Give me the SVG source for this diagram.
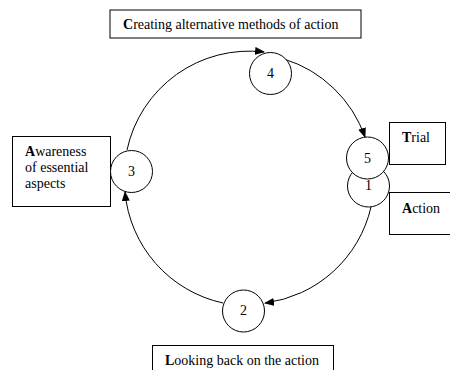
<svg xmlns="http://www.w3.org/2000/svg" width="450" height="370" viewBox="0 0 450 370">
<style>
.box{fill:#fff;stroke:#000;stroke-width:1}
.node{fill:#fff;stroke:#000;stroke-width:1}
.lbl{font-family:"Liberation Serif","Times New Roman",serif;font-size:14px;fill:#000}
.num{font-family:"Liberation Serif","Times New Roman",serif;font-size:14px;fill:#000;text-anchor:middle}
.arc{fill:none;stroke:#000;stroke-width:1}
</style>
<defs>
<marker id="ah" markerUnits="userSpaceOnUse" markerWidth="10" markerHeight="8" refX="9" refY="4" orient="auto">
<path d="M0,0 L10,4 L0,8 Z" fill="#000"/>
</marker>
</defs>
<rect width="450" height="370" fill="#fff"/>
<g id="connectors">
<path class="arc" d="M127 150 A125 125 0 0 1 264 52" marker-end="url(#ah)"/>
<path class="arc" d="M284 59 A125 125 0 0 1 365 137" marker-end="url(#ah)"/>
<path class="arc" d="M371 207 A125 125 0 0 1 265 303" marker-end="url(#ah)"/>
<path class="arc" d="M223 303 A125 125 0 0 1 125 192" marker-end="url(#ah)"/>
</g>
<g id="box-creating">
<rect class="box" x="110" y="10" width="251" height="28"/>
<text class="lbl" x="123" y="29"><tspan font-weight="bold">C</tspan>reating alternative methods of action</text>
</g>
<g id="box-awareness">
<rect class="box" x="12.5" y="136.5" width="98" height="70"/>
<text class="lbl" x="25" y="156"><tspan font-weight="bold">A</tspan>wareness</text>
<text class="lbl" x="25" y="172">of essential</text>
<text class="lbl" x="25" y="188">aspects</text>
</g>
<g id="box-trial">
<rect class="box" x="389.5" y="122.5" width="56" height="42"/>
<text class="lbl" x="402" y="142"><tspan font-weight="bold">T</tspan>rial</text>
</g>
<g id="box-action">
<rect class="box" x="389.5" y="192.5" width="70" height="42"/>
<text class="lbl" x="402" y="213"><tspan font-weight="bold">A</tspan>ction</text>
</g>
<g id="box-looking">
<rect class="box" x="152.5" y="345.5" width="181" height="40"/>
<text class="lbl" x="165" y="365"><tspan font-weight="bold">L</tspan>ooking back on the action</text>
</g>
<g id="node-1">
<circle class="node" cx="368.5" cy="186" r="21"/>
<text class="num" x="368.5" y="190">1</text>
</g>
<g id="node-5">
<circle class="node" cx="367.5" cy="158" r="21"/>
<text class="num" x="367.5" y="163">5</text>
</g>
<g id="node-4">
<circle class="node" cx="270.5" cy="73.5" r="21"/>
<text class="num" x="270.5" y="78">4</text>
</g>
<g id="node-3">
<circle class="node" cx="131.5" cy="171.5" r="21"/>
<text class="num" x="131.5" y="176">3</text>
</g>
<g id="node-2">
<circle class="node" cx="243.5" cy="311" r="21"/>
<text class="num" x="243.5" y="315">2</text>
</g>
</svg>
